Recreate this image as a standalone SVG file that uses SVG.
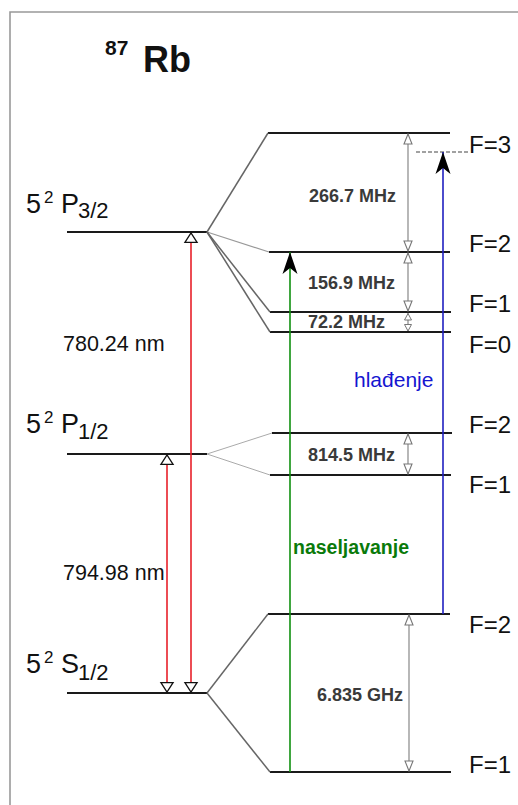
<svg xmlns="http://www.w3.org/2000/svg" width="518" height="805" viewBox="0 0 518 805">
<style>
text{font-family:"Liberation Sans",Arial,sans-serif;fill:#111}
.lvl{stroke:#1a1a1a;stroke-width:2;fill:none}
.fan{stroke:#666;stroke-width:1.5;fill:none}
.fanl{stroke:#999;stroke-width:1.2;fill:none}
.F{font-size:24px}
.mhz{font-size:18px;font-weight:bold;fill:#3a3a3a}
.gap{stroke:#888;stroke-width:1.2;fill:none;marker-start:url(#gh);marker-end:url(#gh)}
.red{stroke:#e8202a;stroke-width:1.6;fill:none;marker-start:url(#bh);marker-end:url(#bh)}
.big{font-size:27px}
.sup{font-size:17px}
.sub{font-size:22px}
.nm{font-size:21.5px}
</style>
<defs>
<marker id="gh" markerUnits="userSpaceOnUse" markerWidth="12" markerHeight="12" refX="10" refY="5" viewBox="-1 -1 12 12" orient="auto-start-reverse" overflow="visible">
<path d="M0,1 L10,5 L0,9 z" fill="#fff" stroke="#777" stroke-width="1.1"/>
</marker>
<marker id="bh" markerUnits="userSpaceOnUse" markerWidth="14" markerHeight="14" refX="10" refY="6.5" viewBox="-1 -1 14 15" orient="auto-start-reverse" overflow="visible">
<path d="M0,0 L10,6.5 L0,13 z" fill="#fff" stroke="#111" stroke-width="1.4"/>
</marker>
<marker id="dart" markerUnits="userSpaceOnUse" markerWidth="24" markerHeight="16" refX="22" refY="7.5" viewBox="0 0 24 16" orient="auto" overflow="visible">
<path d="M0,0 L22,7.5 L0,15 L6,7.5 z" fill="#000"/>
</marker>
</defs>
<rect width="518" height="805" fill="#fff"/>
<path d="M10,805 V12 H518" stroke="#999" stroke-width="1.6" fill="none"/>

<g id="title">
<text x="105" y="55" style="font-size:21px;font-weight:bold">87</text>
<text x="143" y="72" style="font-size:36px;font-weight:bold">Rb</text>
</g>

<g id="P32">
<line class="lvl" x1="67" y1="232" x2="207" y2="232"/>
<text x="26" y="213" class="big">5</text><text x="44" y="203" class="sup">2</text><text x="61" y="213" class="big">P</text><text x="78" y="218" class="sub">3/2</text>
</g>
<g id="P12">
<line class="lvl" x1="67" y1="454" x2="207" y2="454"/>
<text x="26" y="433" class="big">5</text><text x="44" y="423" class="sup">2</text><text x="61" y="433" class="big">P</text><text x="78" y="439" class="sub">1/2</text>
</g>
<g id="S12">
<line class="lvl" x1="67" y1="693" x2="207" y2="693"/>
<text x="26" y="673" class="big">5</text><text x="44" y="663" class="sup">2</text><text x="61" y="673" class="big">S</text><text x="78" y="680" class="sub">1/2</text>
</g>

<g id="P32-F3"><line class="lvl" x1="268" y1="133" x2="450" y2="133"/><text x="469" y="153" class="F">F=3</text></g>
<g id="P32-F2"><line class="lvl" x1="269" y1="252" x2="450" y2="252"/><text x="469" y="252" class="F">F=2</text></g>
<g id="P32-F1"><line class="lvl" x1="270" y1="312" x2="451" y2="312"/><text x="469" y="312" class="F">F=1</text></g>
<g id="P32-F0"><line class="lvl" x1="270" y1="332" x2="451" y2="332"/><text x="469" y="353" class="F">F=0</text></g>
<g id="P12-F2"><line class="lvl" x1="272" y1="433" x2="452" y2="433"/><text x="469" y="433" class="F">F=2</text></g>
<g id="P12-F1"><line class="lvl" x1="270" y1="475" x2="451" y2="475"/><text x="469" y="493" class="F">F=1</text></g>
<g id="S12-F2"><line class="lvl" x1="268" y1="614" x2="450" y2="614"/><text x="469" y="633" class="F">F=2</text></g>
<g id="S12-F1"><line class="lvl" x1="270" y1="772" x2="451" y2="772"/><text x="469" y="773" class="F">F=1</text></g>

<g id="labels">
<text x="63" y="351" class="nm">780.24 nm</text>
<text x="63" y="580" class="nm">794.98 nm</text>
<text x="309" y="202" class="mhz">266.7 MHz</text>
<text x="308" y="289" class="mhz">156.9 MHz</text>
<text x="308" y="328" class="mhz">72.2 MHz</text>
<text x="308" y="461" class="mhz">814.5 MHz</text>
<text x="317" y="701" class="mhz">6.835 GHz</text>
<text x="354" y="387" style="font-size:21px;fill:#1515d0">hlađenje</text>
<text x="293" y="554" style="font-size:19.5px;font-weight:bold;fill:#0a7a0a">naseljavanje</text>
</g>

<g id="connectors">
<line class="fan" x1="207" y1="232" x2="268" y2="133"/>
<line class="fanl" x1="207" y1="232" x2="269" y2="252"/>
<line class="fan" x1="207" y1="232" x2="270" y2="312"/>
<line class="fan" x1="207" y1="232" x2="270" y2="332"/>
<line class="fanl" x1="207" y1="454" x2="272" y2="433" style="stroke:#aaa;stroke-width:1"/>
<line class="fanl" x1="207" y1="454" x2="270" y2="475" style="stroke:#aaa;stroke-width:1"/>
<line class="fan" x1="207" y1="693" x2="268" y2="614"/>
<line class="fan" x1="207" y1="693" x2="270" y2="772"/>

<line class="red" x1="191" y1="233" x2="191" y2="692"/>
<line class="red" x1="167" y1="455" x2="167" y2="692"/>

<line class="gap" x1="408" y1="134" x2="408" y2="251"/>
<line class="gap" x1="408" y1="253" x2="408" y2="311"/>
<line class="gap" x1="408" y1="313" x2="408" y2="331" style="marker:none"/>
<path d="M404.5,320 L408,313.5 L411.5,320 z M404.5,324.5 L408,331 L411.5,324.5 z" fill="#fff" stroke="#777" stroke-width="1"/>
<line class="gap" x1="408" y1="434" x2="408" y2="474"/>
<line class="gap" x1="409" y1="615" x2="409" y2="771"/>

<line x1="416" y1="152" x2="469" y2="152" stroke="#444" stroke-width="1.2" stroke-dasharray="4,2"/>
<line x1="290" y1="772" x2="290" y2="252" stroke="#109010" stroke-width="1.6" marker-end="url(#dart)"/>
<line x1="443" y1="614" x2="443" y2="152" stroke="#2020c0" stroke-width="1.6" marker-end="url(#dart)"/>
</g>
</svg>
